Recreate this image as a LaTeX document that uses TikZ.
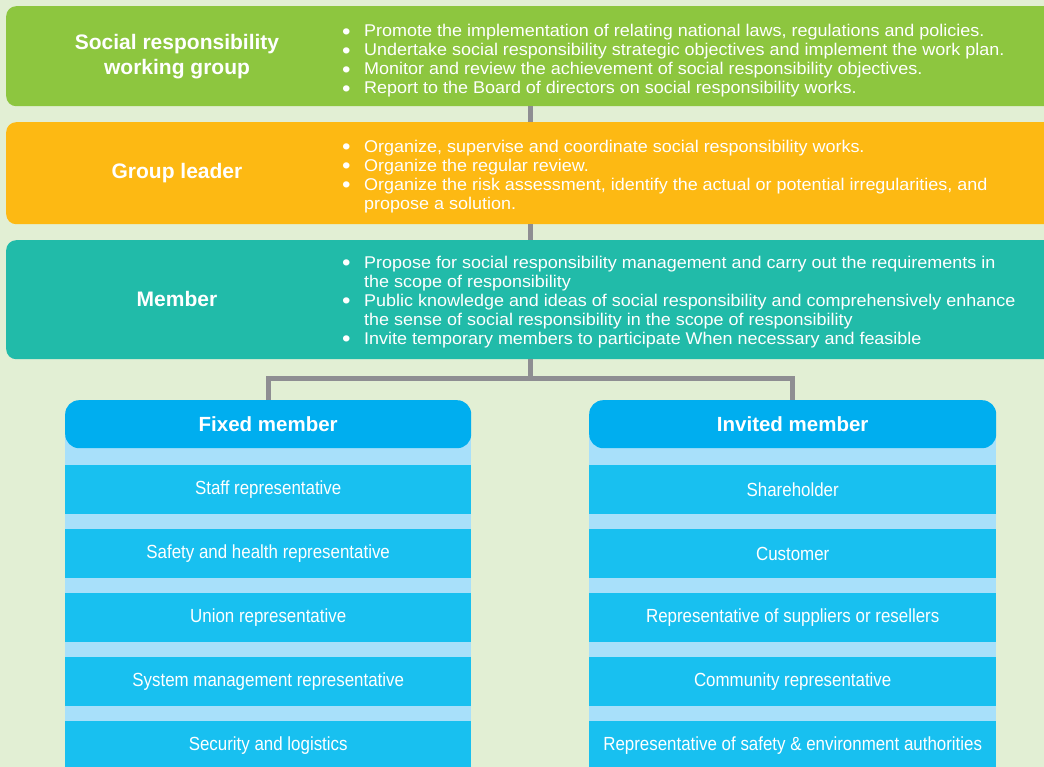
\documentclass[tikz,border=0pt]{standalone}
\usepackage{fontspec}
\usepackage{graphicx}
\setmainfont{Liberation Sans}
\newfontfamily\bodyfont[FakeStretch=1.057]{Liberation Sans}
\newfontfamily\rowfont[FakeStretch=0.89]{Liberation Sans}
\definecolor{bg}{HTML}{E2EFD4}
\definecolor{sgreen}{HTML}{8DC63F}
\definecolor{sorange}{HTML}{FDB913}
\definecolor{steal}{HTML}{21BBA9}
\definecolor{headblue}{HTML}{00AEEF}
\definecolor{rowblue}{HTML}{18C0F0}
\definecolor{stripblue}{HTML}{A8E0FA}
\definecolor{conngray}{HTML}{8E8E92}
\newcommand\blt{\makebox[22pt][l]{\smash{\raisebox{-2.2pt}{\scalebox{1.35}{\textbullet}}}}}
\newcommand\cont{\hspace*{22pt}}
\tikzset{
  band/.style={anchor=north west, rectangle, rounded corners=10pt, minimum width=1100pt, inner sep=0pt},
  title/.style={text=white, font=\bfseries\fontsize{21}{24.5}\selectfont, align=center, inner sep=0pt},
  list/.style={anchor=west, text=white, font=\bodyfont\fontsize{17}{19}\selectfont, align=left, inner sep=0pt},
  colbg/.style={anchor=north west, rectangle, fill=stripblue, minimum width=406pt, minimum height=400pt, inner sep=0pt},
  head/.style={anchor=north west, rectangle, rounded corners=14pt, fill=headblue, minimum width=406pt, minimum height=48pt, inner sep=0pt, text=white, font=\bfseries\fontsize{20.5}{24}\selectfont},
  row/.style={anchor=north west, rectangle, fill=rowblue, minimum width=406pt, minimum height=49pt, inner sep=0pt, text=white, font=\rowfont\fontsize{19}{22}\selectfont},
  conn/.style={draw=conngray, line width=5pt, line join=miter}
}
\begin{document}
\begin{tikzpicture}[x=1pt,y=-1pt]
\useasboundingbox (0,0) rectangle (1044,767);
\clip (0,0) rectangle (1044,767);
\fill[bg] (0,0) rectangle (1044,767);
\coordinate (spine) at (530,0);
% bands
\node[band, fill=sgreen, minimum height=100pt] (g) at (6,6) {};
\node[band, fill=sorange, minimum height=102pt] (o) at (6,122) {};
\node[band, fill=steal, minimum height=119pt] (t) at (6,240) {};
% connectors
\draw[conn] (g.south -| spine) -- (o.north -| spine);
\draw[conn] (o.south -| spine) -- (t.north -| spine);
\coordinate (hub) at (530,378.5);
% columns
\node[colbg] (fcol) at (65,424) {};
\node[colbg, minimum width=407pt] (icol) at (589,424) {};
\node[head] (fh) at (65,400) {Fixed member};
\node[head, minimum width=407pt] (ih) at (589,400) {Invited member};
\draw[conn] (t.south -| spine) -- (hub);
\draw[conn] (fh.north) |- (hub) -| (ih.north);
% titles
\node[title] (gt) at (177,56.5) {Social responsibility\\working group};
\node[title] (ot) at (177,173) {Group leader};
\node[title] (tt) at (177,299) {Member};
% lists
\node[list] (gl) at (342,61) {\blt Promote the implementation of relating national laws, regulations and policies.\\
\blt Undertake social responsibility strategic objectives and implement the work plan.\\
\blt Monitor and review the achievement of social responsibility objectives.\\
\blt Report to the Board of directors on social responsibility works.};
\node[list] (ol) at (342,176.5) {\blt Organize, supervise and coordinate social responsibility works.\\
\blt Organize the regular review.\\
\blt Organize the risk assessment, identify the actual or potential irregularities, and\\
\cont propose a solution.};
\node[list] (tl) at (342,302) {\blt Propose for social responsibility management and carry out the requirements in\\
\cont the scope of responsibility\\
\blt Public knowledge and ideas of social responsibility and comprehensively enhance\\
\cont the sense of social responsibility in the scope of responsibility\\
\blt Invite temporary members to participate When necessary and feasible};
% fixed rows
\node[row] (f1) at (65,465) {Staff representative};
\node[row] (f2) at (65,529) {Safety and health representative};
\node[row] (f3) at (65,593) {Union representative};
\node[row] (f4) at (65,657) {System management representative};
\node[row] (f5) at (65,721) {Security and logistics};
% invited rows
\node[row, minimum width=407pt] (i1) at (589,465) {Shareholder};
\node[row, minimum width=407pt] (i2) at (589,529) {Customer};
\node[row, minimum width=407pt] (i3) at (589,593) {Representative of suppliers or resellers};
\node[row, minimum width=407pt] (i4) at (589,657) {Community representative};
\node[row, minimum width=407pt] (i5) at (589,721) {Representative of safety \& environment authorities};
\end{tikzpicture}
\end{document}
